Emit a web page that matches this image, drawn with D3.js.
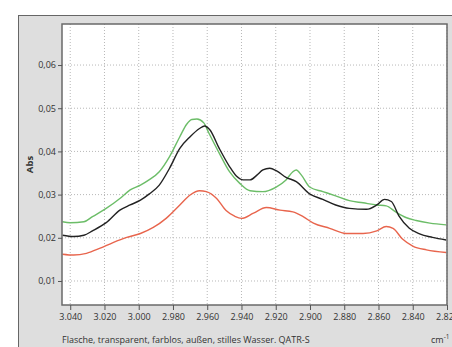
<!DOCTYPE html>
<html><head><meta charset="utf-8">
<script src="https://cdn.jsdelivr.net/npm/d3@7"></script>
<style>html,body{margin:0;padding:0;background:#fff;}svg{display:block;}</style>
</head><body>
<svg id="c" width="452" height="347"></svg>
<script>
const xTicks = [3040,3020,3000,2980,2960,2940,2920,2900,2880,2860,2840,2820];
const xTickLabels = ["3.040","3.020","3.000","2.980","2.960","2.940","2.920","2.900","2.880","2.860","2.840","2.820"];
const yTicks = [0.01,0.02,0.03,0.04,0.05,0.06];
const yTickLabels = ["0,01","0,02","0,03","0,04","0,05","0,06"];

const green = [[3044.5,0.0237],[3040,0.0235],[3032,0.0237],[3027,0.0249],[3019,0.0268],[3011,0.0291],[3005,0.0311],[2999,0.0322],[2994,0.0334],[2988,0.0353],[2982,0.0388],[2976,0.0434],[2972,0.0463],[2969,0.0474],[2966,0.0475],[2962,0.0466],[2959,0.0442],[2953,0.0396],[2947,0.0353],[2941,0.0326],[2935,0.0309],[2927.5,0.0307],[2920,0.0317],[2914,0.0334],[2910,0.0353],[2908,0.0357],[2905,0.0345],[2900,0.0317],[2892.5,0.0307],[2885,0.0297],[2877,0.0286],[2869,0.0281],[2861,0.0276],[2855.5,0.0274],[2850,0.0260],[2844,0.0247],[2838,0.0240],[2830,0.0234],[2820.5,0.0230]];
const black = [[3044.5,0.0206],[3038,0.0203],[3032,0.0206],[3027,0.0216],[3019,0.0235],[3011,0.0264],[3005,0.0276],[2999,0.0287],[2994,0.0301],[2988,0.0322],[2982,0.0361],[2976,0.0407],[2970,0.0434],[2964.5,0.0453],[2961.5,0.0459],[2958.5,0.0450],[2953,0.0407],[2947,0.0365],[2943,0.0343],[2939,0.0334],[2935,0.0334],[2931,0.0345],[2927.5,0.0357],[2923.5,0.0361],[2919.5,0.0355],[2914,0.0340],[2908,0.0330],[2900,0.0301],[2892.5,0.0289],[2885,0.0276],[2877,0.0268],[2867,0.0266],[2861,0.0276],[2856.5,0.0289],[2852.5,0.0284],[2848,0.0250],[2842,0.0222],[2836,0.0209],[2828.5,0.0201],[2820.5,0.0195]];
const red = [[3044.5,0.0162],[3038,0.0160],[3030.5,0.0164],[3022.5,0.0176],[3015,0.0189],[3007,0.0201],[2999,0.0210],[2991.5,0.0224],[2984,0.0245],[2976,0.0276],[2970,0.0299],[2964.5,0.0309],[2960.5,0.0307],[2954.5,0.0291],[2949,0.0263],[2944,0.0250],[2940,0.0245],[2933,0.0257],[2925.5,0.0270],[2917.5,0.0264],[2910,0.0260],[2904,0.0249],[2898,0.0234],[2888.5,0.0222],[2879,0.0210],[2869,0.0210],[2861,0.0216],[2855.5,0.0226],[2851.5,0.0222],[2846,0.0197],[2840,0.0181],[2832,0.0172],[2820.5,0.0166]];

const series = [
  {data: green, color: "#6cbd68"},
  {data: black, color: "#222222"},
  {data: red, color: "#e8654d"}
];

const svg = d3.select("#c");
const font = "'Open Sans', sans-serif";
const L = 62, T = 24, R = 447, B = 305;

svg.append("rect").attr("x",18.5).attr("y",15.5).attr("width",460).attr("height",360)
  .attr("fill","#dedede").attr("stroke","#666").attr("stroke-width",1);
svg.append("rect").attr("x",L).attr("y",T).attr("width",R-L).attr("height",B-T).attr("fill","#fff");

const x = d3.scaleLinear().domain([3044.8,2820]).range([L,R]);
const y = d3.scaleLinear().domain([0.00444,0.0695]).range([B,T]);

const grid = svg.append("g");
grid.selectAll("line.v").data(xTicks).join("line")
  .attr("x1",d=>x(d)).attr("x2",d=>x(d)).attr("y1",T).attr("y2",B)
  .attr("stroke","#b8b8b8").attr("stroke-width",1).attr("stroke-dasharray","1,2");
grid.selectAll("line.h").data(yTicks).join("line")
  .attr("y1",d=>y(d)).attr("y2",d=>y(d)).attr("x1",L).attr("x2",R)
  .attr("stroke","#b8b8b8").attr("stroke-width",1).attr("stroke-dasharray","1,2");

const line = d3.line().x(d=>x(d[0])).y(d=>y(d[1])).curve(d3.curveMonotoneX);
const clip = svg.append("clipPath").attr("id","pc").append("rect").attr("x",L).attr("y",T).attr("width",R-L).attr("height",B-T);
const lines = svg.append("g").attr("clip-path","url(#pc)");
series.forEach(s=>{
  lines.append("path").datum(s.data).attr("d",line).attr("fill","none")
    .attr("stroke",s.color).attr("stroke-width",1.4).attr("stroke-linejoin","round");
});

svg.append("rect").attr("x",L).attr("y",T).attr("width",R-L).attr("height",B-T)
  .attr("fill","none").attr("stroke","#6a6a6a").attr("stroke-width",1.5);

const xAxis = d3.axisBottom(x).tickValues(xTicks).tickSize(5).tickPadding(4)
  .tickFormat((d,i)=>xTickLabels[i]);
const gx = svg.append("g").attr("transform",`translate(0,${B})`).call(xAxis);
gx.select(".domain").remove();
gx.selectAll(".tick line").attr("stroke","#555");
gx.selectAll("text").attr("font-family",font).attr("font-size",9).attr("fill","#333");

const yAxis = d3.axisLeft(y).tickValues(yTicks).tickSize(4).tickPadding(2)
  .tickFormat((d,i)=>yTickLabels[i]);
const gy = svg.append("g").attr("transform",`translate(${L},0)`).call(yAxis);
gy.select(".domain").remove();
gy.selectAll(".tick line").attr("stroke","#555");
gy.selectAll("text").attr("font-family",font).attr("font-size",9).attr("fill","#333");

svg.append("text").attr("transform",`translate(33,${(T+B)/2}) rotate(-90)`)
  .attr("text-anchor","middle").attr("font-family",font).attr("font-size",9.5)
  .attr("font-weight","bold").attr("fill","#333").text("Abs");

svg.append("text").attr("x",62).attr("y",343).attr("font-family",font).attr("font-size",9)
  .attr("fill","#333").text("Flasche, transparent, farblos, außen, stilles Wasser. QATR-S");

const cm = svg.append("text").attr("x",431).attr("y",343).attr("font-family",font).attr("font-size",9).attr("fill","#333");
cm.append("tspan").text("cm");
cm.append("tspan").attr("dy",-4).attr("font-size",6.5).text("-1");
</script>
</body></html>
